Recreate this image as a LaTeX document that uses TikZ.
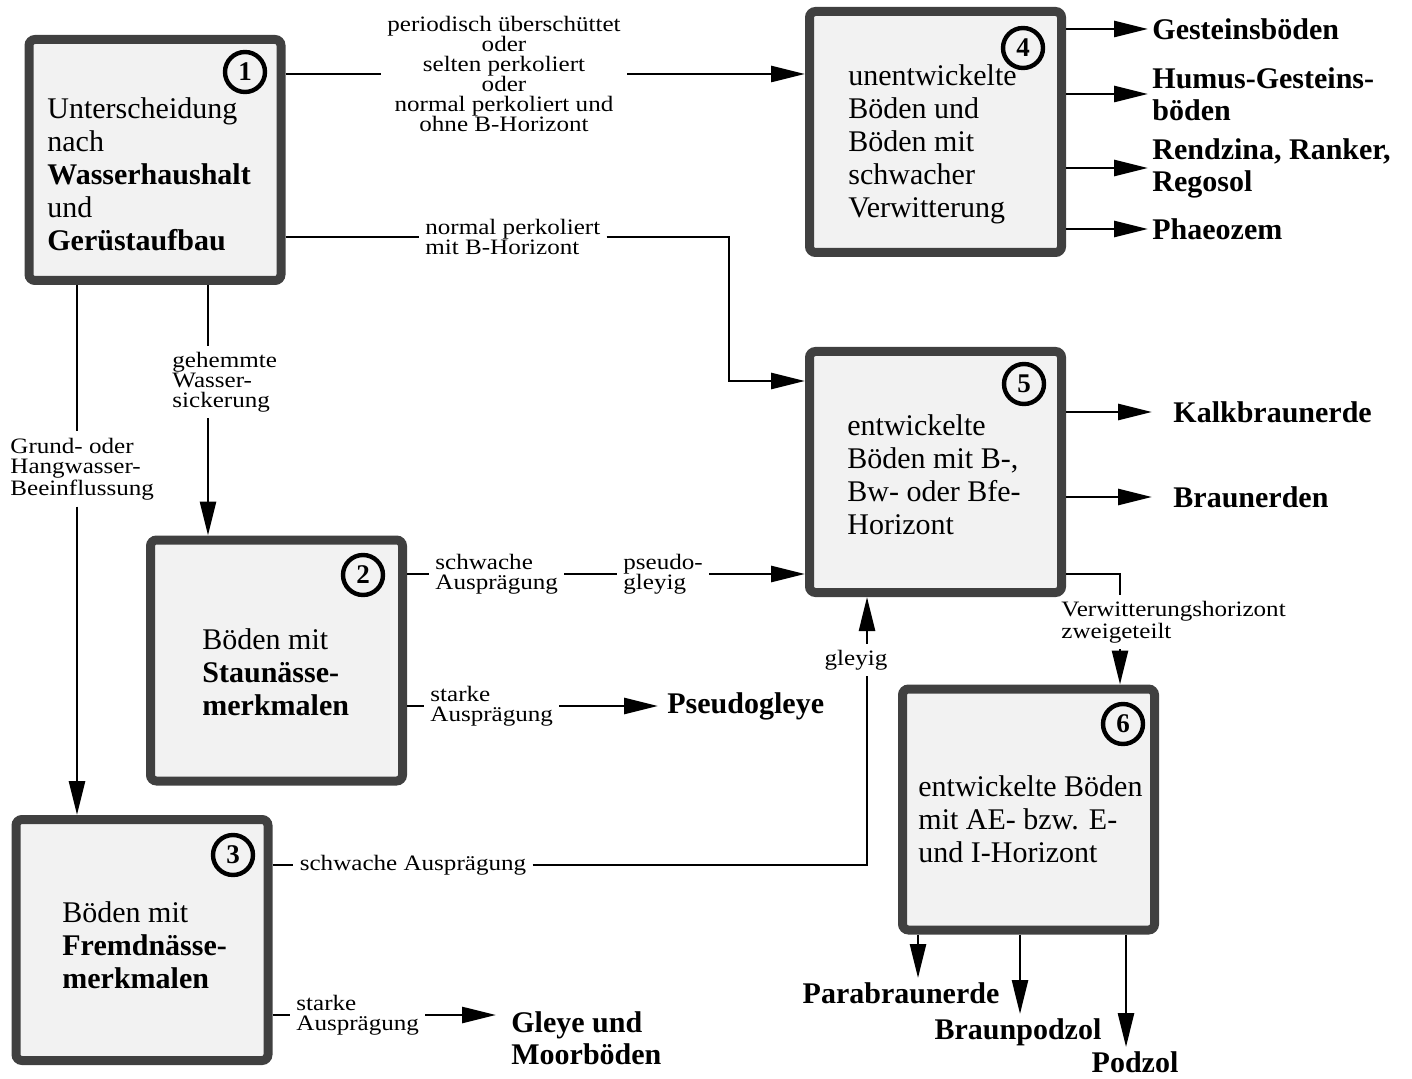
\documentclass[tikz,border=0pt]{standalone}
\usepackage{fontspec}
\setmainfont{Liberation Serif}
\newfontfamily\labelfont[FakeStretch=1.14]{Liberation Serif}
\usetikzlibrary{arrows.meta}
\definecolor{boxfill}{HTML}{F2F2F2}
\definecolor{boxline}{HTML}{404040}
\tikzset{
  soilbox/.style={draw=boxline, fill=boxfill, line width=4.5pt, rounded corners=3pt,
    minimum width=126pt, minimum height=120.5pt, outer sep=2.25pt, inner sep=0pt},
  boxtext/.style={anchor=west, align=left, inner sep=0pt, font=\fontsize{15}{16.5}\selectfont},
  numcircle/.style={circle, draw, line width=2.2pt, minimum size=20pt, inner sep=0pt,
    font=\bfseries\fontsize{13.5}{13.5}\selectfont},
  edgetext/.style={align=left, inner sep=3pt, font=\labelfont\fontsize{11}{10}\selectfont},
  soil/.style={align=left, inner sep=2pt, font=\bfseries\fontsize{15}{16}\selectfont},
  wire/.style={line width=1.3pt},
  arr/.style={wire, -{Triangle[length=17pt,width=8pt]}},
}
\begin{document}
\begin{tikzpicture}[x=0.500000pt,y=-0.500000pt]
\useasboundingbox (0,0) rectangle (1412,1079);
% Drawing boxes
% Box 1: Wasserhaushalt und Geruestaufbau
\node[soilbox] (b1) at (155,160) {};
\node[boxtext] (t1) at (47,174) {Unterscheidung\\nach\\\textbf{Wasserhaushalt}\\und\\\textbf{Gerüstaufbau}};
\node[numcircle] (c1) at (245,72) {1};
% Box 4: unentwickelte Boeden
\node[soilbox] (b4) at (935.5,132) {};
\node[boxtext] (t4) at (848,144) {unentwickelte\\Böden und\\Böden mit\\schwacher\\Verwitterung};
\node[numcircle] (c4) at (1023,48) {4};
% Box 5: entwickelte Boeden mit B-Horizont
\node[soilbox] (b5) at (935.5,472) {};
\node[boxtext] (t5) at (847,475) {entwickelte\\Böden mit B-,\\Bw- oder Bfe-\\Horizont};
\node[numcircle] (c5) at (1024,384) {5};
% Box 2: Staunaesse
\node[soilbox] (b2) at (276.5,660.5) {};
\node[boxtext] (t2) at (202,672) {Böden mit\\\textbf{Staunässe-}\\\textbf{merkmalen}};
\node[numcircle] (c2) at (363,575) {2};
% Box 3: Fremdnaesse
\node[soilbox] (b3) at (142,940) {};
\node[boxtext] (t3) at (62,945) {Böden mit\\\textbf{Fremdnässe-}\\\textbf{merkmalen}};
\node[numcircle] (c3) at (233,855) {3};
% Box 6: AE- bzw. E- und I-Horizont
\node[soilbox] (b6) at (1028.5,809.5) {};
\node[boxtext] (t6) at (918,819) {entwickelte Böden\\mit AE- bzw. E-\\und I-Horizont};
\node[numcircle] (c6) at (1123,724) {6};
% Done with boxes; drawing labels
\node[edgetext, align=center] (l14) at (504,74) {periodisch überschüttet\\oder\\selten perkoliert\\oder\\normal perkoliert und\\ohne B-Horizont};
\node[edgetext, anchor=west] (l15) at (419,237) {normal perkoliert\\mit B-Horizont};
\node[edgetext, anchor=west] (l12) at (166,382) {gehemmte\\Wasser-\\sickerung};
\node[edgetext, anchor=west] (l13) at (4,469) {Grund- oder\\Hangwasser-\\Beeinflussung};
\node[edgetext, anchor=west] (l25a) at (429,574) {schwache\\Ausprägung};
\node[edgetext, anchor=west] (l25b) at (617,574) {pseudo-\\gleyig};
\node[edgetext, anchor=west] (l2P) at (424,706) {starke\\Ausprägung};
\node[edgetext] (l3a) at (413,865) {schwache Ausprägung};
\node[edgetext] (l35) at (856,660) {gleyig};
\node[edgetext, anchor=west] (l3P) at (290,1015) {starke\\Ausprägung};
\node[edgetext, anchor=west] (l56) at (1055,622) {Verwitterungshorizont\\zweigeteilt};
% Done with labels; drawing soil names
\node[soil, anchor=west] (o41) at (1148,29) {Gesteinsböden};
\node[soil, anchor=west] (o42) at (1148,94) {Humus-Gesteins-\\böden};
\node[soil, anchor=west] (o43) at (1148,168) {Rendzina, Ranker,\\Regosol};
\node[soil, anchor=west] (o44) at (1148,229) {Phaeozem};
\node[soil, anchor=west, inner xsep=10.5pt] (o51) at (1152,412) {Kalkbraunerde};
\node[soil, anchor=west, inner xsep=10.5pt] (o52) at (1152,497) {Braunerden};
\node[soil, anchor=west, inner xsep=4.5pt] (o2P) at (658,706) {Pseudogleye};
\node[soil, anchor=west, inner xsep=7.5pt] (o3G) at (496,1038) {Gleye und\\Moorböden};
\node[soil] (o61) at (901,993) {Parabraunerde};
\node[soil] (o62) at (1018,1032) {Braunpodzol};
\node[soil] (o63) at (1135,1062) {Podzol};
% Done with soil names; drawing connectors
\coordinate (k12) at (208,300);
\coordinate (k13) at (77,300);
\coordinate (k15) at (729,381);
\coordinate (k35) at (867,865);
\coordinate (k56) at (1120,574);
\coordinate (k61) at (918,950);
\coordinate (k62) at (1020,950);
\coordinate (k63) at (1126,950);
% Box 1 to box 4 and box 5
\draw[wire] (b1.east |- l14) -- (l14.west);
\draw[arr] (l14.east) -- (b4.west |- l14);
\draw[wire] (b1.east |- l15) -- (l15.west);
\draw[arr] (l15.east) -| (k15) -- (b5.west |- k15);
% Box 1 to box 2 and box 3
\draw[wire] (k12 |- b1.south) -- (k12 |- l12.north);
\draw[arr] (k12 |- l12.south) -- (k12 |- b2.north);
\draw[wire] (k13 |- b1.south) -- (k13 |- l13.north);
\draw[arr] (k13 |- l13.south) -- (k13 |- b3.north);
% Box 2 out
\draw[wire] (b2.east |- l25a) -- (l25a.west);
\draw[wire] (l25a.east) -- (l25b.west);
\draw[arr] (l25b.east) -- (b5.west |- l25b);
\draw[wire] (b2.east |- l2P) -- (l2P.west);
\draw[arr] (l2P.east) -- (o2P.west);
% Box 3 out
\draw[wire] (b3.east |- l3a) -- (l3a.west);
\draw[wire] (l3a.east) -- (k35) -- (k35 |- l35.south);
\draw[arr] (k35 |- l35.north) -- (k35 |- b5.south);
\draw[wire] (b3.east |- l3P) -- (l3P.west);
\draw[arr] (l3P.east) -- (o3G.west |- l3P);
% Box 4 and box 5 out
\foreach \o in {o41,o42,o43,o44}
  \draw[arr] (b4.east |- \o.west) -- (\o.west);
\foreach \o in {o51,o52}
  \draw[arr] (b5.east |- \o.west) -- (\o.west);
\draw[wire] (b5.east |- k56) -- (k56) -- (k56 |- l56.north);
\draw[arr] (k56 |- l56.south) -- (k56 |- b6.north);
% Box 6 out
\foreach \k/\o in {k61/o61,k62/o62,k63/o63}
  \draw[arr] (\k |- b6.south) -- (\k |- \o.north);
% Done with connectors
\end{tikzpicture}
\end{document}
